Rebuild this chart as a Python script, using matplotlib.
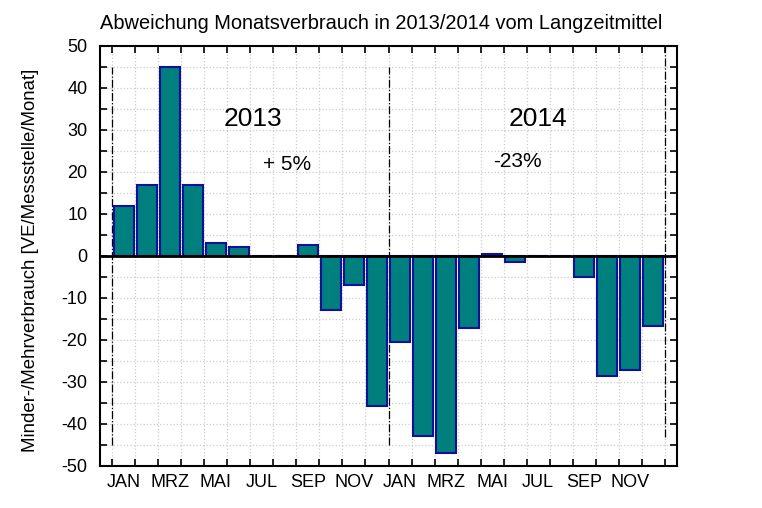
import matplotlib.pyplot as plt
import numpy as np

plt.rcParams['font.family'] = ['Liberation Sans', 'DejaVu Sans']

# Abweichung je Monat [VE/Messstelle/Monat]
werte_2013 = [11.8, 16.8, 44.9, 16.8, 3.0, 2.0, 0.0, 0.0, 2.6, -12.8, -6.9, -35.8]
werte_2014 = [-20.6, -42.9, -46.8, -17.1, 0.5, -1.4, 0.0, 0.0, -5.0, -28.5, -27.2, -16.8]
monate = ['JAN', 'MRZ', 'MAI', 'JUL', 'SEP', 'NOV']
jahre = ['2013', '2014']
prozent = ['+ 5%', '-23%']

werte = np.array(werte_2013 + werte_2014)
x = np.arange(len(werte)) + 0.5

fig, ax = plt.subplots(figsize=(7.62, 5.08), dpi=100)
fig.subplots_adjust(left=0.1312, right=0.8885, bottom=0.0827, top=0.9104)

ax.bar(x, werte, width=0.88, color='#007f7f', edgecolor='#10109a', lw=1.5, zorder=3)
ax.axhline(0, color='black', lw=2, zorder=4)

# Jahresgrenzen
ax.vlines([0, 12], -45, 45, colors='black', lw=0.9, ls='-.', zorder=2)
ax.vlines([24], -43, 50, colors='black', lw=0.9, ls='-.', zorder=2)

ax.set_xlim([-0.54, 24.54])
ax.set_ylim([-50, 50])

ax.set_xticks(np.arange(0, 25))
ax.set_xticklabels([])
ax.set_xticks(np.arange(0.5, 24, 2), minor=True)
ax.set_xticklabels(monate * 2, minor=True, fontsize=13)
ax.tick_params(axis='x', which='minor', length=0, pad=6)

ax.set_yticks(np.arange(-50, 51, 5))
ax.set_yticklabels([str(v) if v % 10 == 0 else '' for v in range(-50, 51, 5)], fontsize=13)

ax.tick_params(axis='both', which='major', direction='in', length=5, width=1.2,
               top=True, right=True)
ax.tick_params(axis='y', pad=9)

ax.grid(True, which='major', ls=':', color='#cccccc', lw=0.9, zorder=1)
for s in ax.spines.values():
    s.set_linewidth(1.5)

ax.text(6.1, 32.5, jahre[0], fontsize=19, ha='center', va='center')
ax.text(7.6, 21.8, prozent[0], fontsize=15, ha='center', va='center')
ax.text(18.5, 32.5, jahre[1], fontsize=19, ha='center', va='center')
ax.text(17.6, 22.5, prozent[1], fontsize=15, ha='center', va='center')

ax.set_ylabel('Minder-/Mehrverbrauch [VE/Messstelle/Monat]', fontsize=13.4, labelpad=6)
ax.yaxis.set_label_coords(-0.105, 0.49)
fig.text(0.5, 0.935, 'Abweichung Monatsverbrauch in 2013/2014 vom Langzeitmittel',
         fontsize=14.4, ha='center', va='bottom')

fig.savefig('out.png', facecolor='white')
